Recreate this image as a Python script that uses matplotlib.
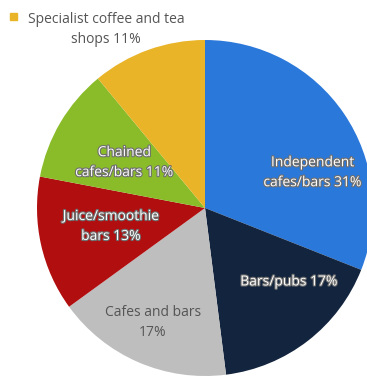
import matplotlib.pyplot as plt
import matplotlib.patheffects as pe
from matplotlib.patches import Rectangle

plt.rcParams['font.family'] = ['Open Sans', 'DejaVu Sans']

segments = ["Independent cafes/bars", "Bars/pubs", "Cafes and bars",
            "Juice/smoothie bars", "Chained cafes/bars",
            "Specialist coffee and tea shops"]
shares = [31, 17, 17, 13, 11, 11]
colors = ["#2a78da", "#13253e", "#bebebe", "#b10e10", "#8abc2a", "#e9b428"]

# label text, centre position (in pie radius units), style
label_text = ["Independent\ncafes/bars {}%", "Bars/pubs {}%", "Cafes and bars\n{}%",
              "Juice/smoothie\nbars {}%", "Chained\ncafes/bars {}%"]
label_pos = [(0.64, 0.21), (0.50, -0.44), (-0.31, -0.68), (-0.56, -0.11), (-0.48, 0.27)]
outlined = [True, True, False, True, True]

fig = plt.figure(figsize=(3.67, 3.79), dpi=100)
ax = fig.add_axes([0, 0, 1, 1])
ax.pie(shares, colors=colors, startangle=90, counterclock=False, radius=1.0,
       wedgeprops=dict(linewidth=0))
ax.set_xlim(-205 / 168, 162 / 168)
ax.set_ylim(-171 / 168, 208 / 168)
ax.set_aspect('auto')
ax.axis('off')

fs = 10
stroke = [pe.withStroke(linewidth=1.6, foreground="#6e6e6e")]
for txt, (x, y), share, outl in zip(label_text, label_pos, shares, outlined):
    if outl:
        ax.text(x, y, txt.format(share), ha='center', va='center', fontsize=fs,
                color='white', linespacing=1.45, path_effects=stroke)
    else:
        ax.text(x, y, txt.format(share), ha='center', va='center', fontsize=fs,
                color='#555555', linespacing=1.45)

# outside label for the last slice, with a colour key square
ax.text(-0.589, 1.065, "Specialist coffee and tea\nshops {}%".format(shares[5]),
        ha='center', va='center', fontsize=fs, color='#555555', linespacing=1.45)
ax.add_patch(Rectangle((-1.161, 1.119), 0.042, 0.042, color=colors[5], clip_on=False))

fig.savefig("out.png", dpi=100)
